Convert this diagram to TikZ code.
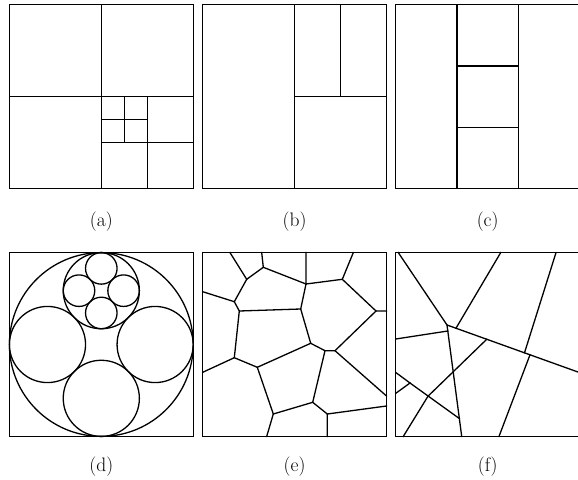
\documentclass[tikz,border=0pt]{standalone}
\begin{document}
\begin{tikzpicture}[x=1pt,y=-1pt,
  ln/.style={line width=1.3pt, line join=miter, line cap=rect},
  lbl/.style={inner sep=0pt, font=\fontsize{19.5}{23}\selectfont}]
\useasboundingbox (0,0) rectangle (578,479);
% ---------- (a) ----------
\begin{scope}[shift={(9.4pt,-4.7pt)}, x=183.8pt, y=-183.8pt, ln]
  \draw (0,0) rectangle (1,1);
  \draw (0.5,0) -- (0.5,1) (0,0.5) -- (1,0.5);
  \draw (0.75,0.5) -- (0.75,1) (0.5,0.75) -- (1,0.75);
  \draw (0.625,0.5) -- (0.625,0.75) (0.5,0.625) -- (0.75,0.625);
\end{scope}
% ---------- (b) ----------
\begin{scope}[shift={(202.7pt,-4.7pt)}, x=183.8pt, y=-183.8pt, ln]
  \draw (0,0) rectangle (1,1);
  \draw (0.5,0) -- (0.5,1) (0.5,0.5) -- (1,0.5) (0.75,0) -- (0.75,0.5);
\end{scope}
% ---------- (c) ----------
\begin{scope}[shift={(395.8pt,-4.7pt)}, x=183.8pt, y=-183.8pt, ln]
  \draw (0,0) rectangle (1,1);
  \draw (1/3,0) -- (1/3,1) (2/3,0) -- (2/3,1);
  \draw (1/3,1/3) -- (2/3,1/3) (1/3,2/3) -- (2/3,2/3);
\end{scope}
% ---------- (d) ----------
\begin{scope}[ln]
  \draw (9.4,252.6) rectangle (193.2,436.4);
  \coordinate (dc) at (101.3,344.5);
  \draw (dc) circle[radius=91.9pt];
  \draw (101.3,290.67) circle[radius=38.07pt];
  \draw (101.3,398.33) circle[radius=38.07pt];
  \draw (47.47,344.5) circle[radius=38.07pt];
  \draw (155.13,344.5) circle[radius=38.07pt];
  \draw (101.3,268.37) circle[radius=15.77pt];
  \draw (101.3,312.97) circle[radius=15.77pt];
  \draw (79.0,290.67) circle[radius=15.77pt];
  \draw (123.6,290.67) circle[radius=15.77pt];
\end{scope}
% ---------- (e) ----------
\begin{scope}[ln]
  \draw (202.7,252.6) rectangle (386.5,436.4);
  \coordinate (e2) at (246.7,279.3);
  \coordinate (e4) at (263.3,267.3);
  \coordinate (e5) at (306,284);
  \coordinate (e7) at (342.3,279.3);
  \coordinate (e9) at (376,311);
  \coordinate (e11) at (335,350.7);
  \coordinate (e12) at (325,350.7);
  \coordinate (e13) at (310.7,343.3);
  \coordinate (e14) at (300.7,309);
  \coordinate (e15) at (239.3,311);
  \coordinate (e16) at (234.3,301.7);
  \coordinate (e18) at (234.3,357.7);
  \coordinate (e20) at (257.3,367.3);
  \coordinate (e21) at (273.3,414);
  \coordinate (e23) at (312.7,402.3);
  \coordinate (e24) at (327.3,414);
  \draw (230,252.6) -- (e2) -- (e4) -- (261.7,252.6);
  \draw (e4) -- (e5) -- (306,252.6);
  \draw (e5) -- (e7) -- (353.3,252.6);
  \draw (e7) -- (e9) -- (386.5,311);
  \draw (e9) -- (e11) -- (e12) -- (e13) -- (e14) -- (e5);
  \draw (e14) -- (e15) -- (e16) -- (e2);
  \draw (e16) -- (202.7,291.7);
  \draw (e15) -- (e18) -- (202.7,372.3);
  \draw (e18) -- (e20) -- (e13);
  \draw (e20) -- (e21) -- (266.7,436.4);
  \draw (e21) -- (e23) -- (e12);
  \draw (e23) -- (e24) -- (327.3,436.4);
  \draw (e24) -- (386.5,406);
  \draw (e11) -- (386.5,396);
\end{scope}
% ---------- (f) ----------
\begin{scope}[ln]
  \draw (395.8,252.6) rectangle (579.6,436.4);
  \coordinate (fA) at (447,325);
  \coordinate (fB) at (456,328.2);
  \coordinate (fC) at (447.8,331);
  \coordinate (fE) at (486.7,339.3);
  \coordinate (fF) at (428,396.2);
  \coordinate (fH) at (410,383);
  \coordinate (fI) at (459.3,418.5);
  \coordinate (fJ) at (524.5,352.8);
  \coordinate (fK) at (530,354.8);
  \draw (398.3,252.6) -- (fA) -- (579.6,372.6);
  \draw (500.7,252.6) -- (fB);
  \draw (fA) -- (461.7,436.4);
  \draw (395.8,339) -- (fC);
  \draw (fE) -- (fF) -- (403.3,436.4);
  \draw (395.8,372.5) -- (fH) -- (fI);
  \draw (fH) -- (395.8,393.3);
  \draw (556,252.6) -- (fJ);
  \draw (fK) -- (499,436.4);
\end{scope}
% ---------- labels ----------
\node[lbl] (la) at (101.3,222) {(a)};
\node[lbl] (lb) at (294.6,222) {(b)};
\node[lbl] (lc) at (487.7,222) {(c)};
\node[lbl] (ld) at (101.3,466.5) {(d)};
\node[lbl] (le) at (294.6,466.5) {(e)};
\node[lbl] (lf) at (487.7,466.5) {(f)};
\end{tikzpicture}
\end{document}
